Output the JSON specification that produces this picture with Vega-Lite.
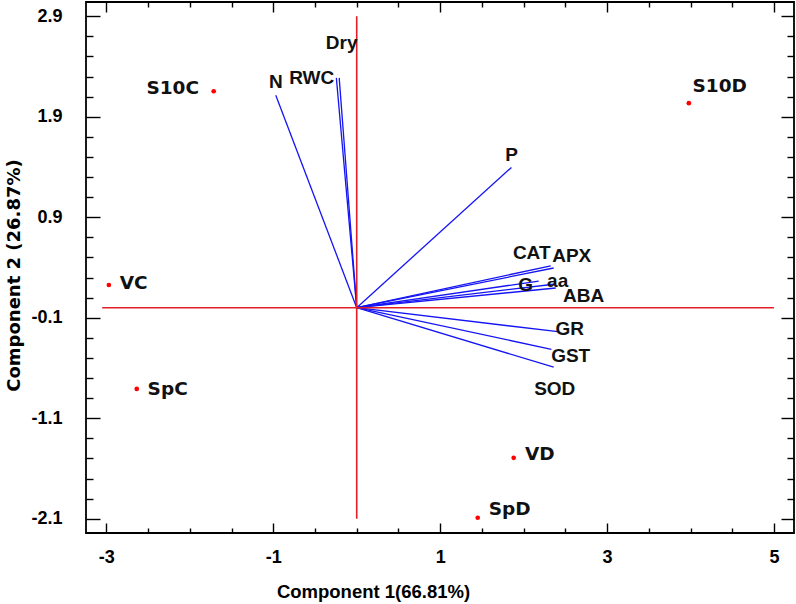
{
  "$schema": "https://vega.github.io/schema/vega-lite/v6.json",
  "width": 708,
  "height": 531,
  "autosize": "none",
  "padding": {"left": 86, "top": 2, "right": 2, "bottom": 71},
  "background": "white",
  "config": {
    "view": {"stroke": "#000", "strokeWidth": 1.8},
    "axis": {"domain": false, "grid": false, "tickColor": "#000", "tickWidth": 1.4, "labelColor": "#000", "labelFont": "Liberation Sans", "labelFontWeight": "bold", "labelFontSize": 18, "titleColor": "#000"}
  },
  "datasets": {
    "vectors": [
      {"name": "N", "x": -0.97, "y": 2.114, "lx": -0.97, "ly": 2.243},
      {"name": "RWC", "x": -0.244, "y": 2.287, "lx": -0.539, "ly": 2.283},
      {"name": "Dry", "x": -0.21, "y": 2.287, "lx": -0.18, "ly": 2.631},
      {"name": "P", "x": 1.854, "y": 1.396, "lx": 1.857, "ly": 1.518},
      {"name": "CAT", "x": 2.325, "y": 0.417, "lx": 2.097, "ly": 0.544},
      {"name": "APX", "x": 2.36, "y": 0.395, "lx": 2.576, "ly": 0.514},
      {"name": "G", "x": 2.18, "y": 0.265, "lx": 2.025, "ly": 0.226},
      {"name": "aa", "x": 2.385, "y": 0.236, "lx": 2.408, "ly": 0.265},
      {"name": "ABA", "x": 2.385, "y": 0.196, "lx": 2.72, "ly": 0.116},
      {"name": "GR", "x": 2.412, "y": -0.239, "lx": 2.552, "ly": -0.212},
      {"name": "GST", "x": 2.333, "y": -0.414, "lx": 2.564, "ly": -0.48},
      {"name": "SOD", "x": 2.36, "y": -0.592, "lx": 2.373, "ly": -0.808}
    ],
    "points": [
      {"name": "S10C", "x": -1.714, "y": 2.154, "lx": -2.205, "ly": 2.184},
      {"name": "S10D", "x": 3.98, "y": 2.035, "lx": 4.35, "ly": 2.203},
      {"name": "VC", "x": -2.97, "y": 0.226, "lx": -2.672, "ly": 0.246},
      {"name": "SpC", "x": -2.636, "y": -0.808, "lx": -2.265, "ly": -0.808},
      {"name": "VD", "x": 1.881, "y": -1.494, "lx": 2.193, "ly": -1.454},
      {"name": "SpD", "x": 1.45, "y": -2.09, "lx": 1.833, "ly": -2.001}
    ]
  },
  "resolve": {"axis": {"x": "independent", "y": "independent"}},
  "layer": [
    {
      "data": {"name": "vectors"},
      "mark": {"type": "rule", "color": "#1414f5", "strokeWidth": 1.3},
      "encoding": {
        "x": {"field": "x", "type": "quantitative",
          "scale": {"domain": [-3.244, 5.24], "nice": false, "zero": false},
          "axis": {"orient": "bottom", "values": [-3, -1, 1, 3, 5], "tickSize": -10, "labelPadding": 25,
            "labelExpr": "datum.value < 0 ? '-' + format(-datum.value, 'd') : format(datum.value, 'd')",
            "title": "Component 1(66.81%)", "titleFont": "Liberation Sans", "titleFontWeight": "bold", "titleFontSize": 18.5,
            "titleX": 287, "titleY": 64, "titleBaseline": "alphabetic", "titleAnchor": null, "titleAlign": "center"}},
        "y": {"field": "y", "type": "quantitative",
          "scale": {"domain": [-2.242, 3.042], "nice": false, "zero": false},
          "axis": {"orient": "left", "values": [-2.1, -1.1, -0.1, 0.9, 1.9, 2.9], "tickSize": -14, "labelPadding": 38,
            "labelExpr": "datum.value < 0 ? '-' + format(-datum.value, '.1f') : format(datum.value, '.1f')",
            "title": "Component 2 (26.87%)", "titleFont": "DejaVu Sans", "titleFontWeight": "bold", "titleFontSize": 18,
            "titleX": -72, "titleY": 273, "titleAngle": -90, "titleAlign": "center", "titleBaseline": "middle"}},
        "x2": {"datum": 0},
        "y2": {"datum": 0}
      }
    },
    {
      "data": {"values": [{"k": 1}]},
      "mark": {"type": "rule", "color": "#e41e26", "strokeWidth": 1.6},
      "encoding": {
        "x": {"datum": -3.05, "type": "quantitative", "scale": {"domain": [-3.244, 5.24], "nice": false, "zero": false}, "axis": null},
        "x2": {"datum": 5},
        "y": {"datum": 0, "type": "quantitative", "scale": {"domain": [-2.242, 3.042], "nice": false, "zero": false}, "axis": null}
      }
    },
    {
      "data": {"values": [{"k": 1}]},
      "mark": {"type": "rule", "color": "#e41e26", "strokeWidth": 1.6},
      "encoding": {
        "x": {"datum": 0, "type": "quantitative", "scale": {"domain": [-3.244, 5.24], "nice": false, "zero": false}, "axis": null},
        "y": {"datum": -2.1, "type": "quantitative", "scale": {"domain": [-2.242, 3.042], "nice": false, "zero": false}, "axis": null},
        "y2": {"datum": 2.9}
      }
    },
    {
      "data": {"name": "points"},
      "mark": {"type": "circle", "color": "#ff0000", "opacity": 1, "size": 22},
      "encoding": {
        "x": {"field": "x", "type": "quantitative", "scale": {"domain": [-3.244, 5.24], "nice": false, "zero": false},
          "axis": {"orient": "bottom", "values": [-2.5, -2, -1.5, -0.5, 0, 0.5, 1.5, 2, 2.5, 3.5, 4, 4.5], "tickSize": -5, "labels": false, "title": null}},
        "y": {"field": "y", "type": "quantitative", "scale": {"domain": [-2.242, 3.042], "nice": false, "zero": false},
          "axis": {"orient": "left", "values": [-1.9, -1.7, -1.5, -1.3, -0.9, -0.7, -0.5, -0.3, 0.1, 0.3, 0.5, 0.7, 1.1, 1.3, 1.5, 1.7, 2.1, 2.3, 2.5, 2.7], "tickSize": -7, "labels": false, "title": null}}
      }
    },
    {
      "data": {"name": "vectors"},
      "mark": {"type": "text", "font": "Liberation Sans", "fontWeight": "bold", "fontSize": 19, "color": "#111", "align": "center", "baseline": "middle"},
      "encoding": {
        "x": {"field": "lx", "type": "quantitative", "scale": {"domain": [-3.244, 5.24], "nice": false, "zero": false},
          "axis": {"orient": "top", "values": [-3, -1, 1, 3, 5], "tickSize": -10, "labels": false, "title": null}},
        "y": {"field": "ly", "type": "quantitative", "scale": {"domain": [-2.242, 3.042], "nice": false, "zero": false},
          "axis": {"orient": "right", "values": [-2.1, -1.1, -0.1, 0.9, 1.9, 2.9], "tickSize": -13, "labels": false, "title": null}},
        "text": {"field": "name"}
      }
    },
    {
      "data": {"name": "points"},
      "mark": {"type": "text", "font": "DejaVu Sans", "fontWeight": "bold", "fontSize": 18.5, "color": "#111", "align": "center", "baseline": "middle"},
      "encoding": {
        "x": {"field": "lx", "type": "quantitative", "scale": {"domain": [-3.244, 5.24], "nice": false, "zero": false},
          "axis": {"orient": "top", "values": [-2.5, -2, -1.5, -0.5, 0, 0.5, 1.5, 2, 2.5, 3.5, 4, 4.5], "tickSize": -5, "labels": false, "title": null}},
        "y": {"field": "ly", "type": "quantitative", "scale": {"domain": [-2.242, 3.042], "nice": false, "zero": false},
          "axis": {"orient": "right", "values": [-1.9, -1.7, -1.5, -1.3, -0.9, -0.7, -0.5, -0.3, 0.1, 0.3, 0.5, 0.7, 1.1, 1.3, 1.5, 1.7, 2.1, 2.3, 2.5, 2.7], "tickSize": -7, "labels": false, "title": null}},
        "text": {"field": "name"}
      }
    }
  ]
}
